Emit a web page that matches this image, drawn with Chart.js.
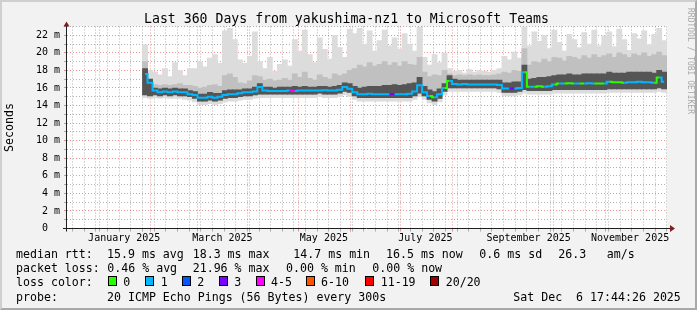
<!DOCTYPE html>
<html>
<head>
<meta charset="utf-8">
<title>Last 360 Days from yakushima-nz1 to Microsoft Teams</title>
<script src="https://cdn.jsdelivr.net/npm/chart.js@4.4.1/dist/chart.umd.min.js"></script>
<style>
  html, body { margin: 0; padding: 0; background: #f2f2f2; overflow: hidden; }
  #wrap { position: relative; width: 697px; height: 310px; background: #f2f2f2; overflow: hidden; }
  #c { position: absolute; left: 0; top: 0; }
  #frame { position: absolute; left: 0; top: 0; width: 697px; height: 310px; box-sizing: border-box;
           border-top: 2px solid #cfcfcf; border-left: 2px solid #cfcfcf;
           border-right: 2px solid #a8a8a8; border-bottom: 2px solid #a8a8a8; pointer-events: none; }
  .t { position: absolute; font-family: 'DejaVu Sans Mono', monospace; white-space: pre; color: #000; }
  .lg { font-size: 11.6px; line-height: 14px; }
  .ttl { font-size: 13.2px; line-height: 16px; }
  .box { position: absolute; width: 7px; height: 8px; border: 1px solid #000; }
  #wm { position: absolute; left: 686px; top: 8px; writing-mode: vertical-rl; font-family: 'DejaVu Sans Mono', monospace;
        font-size: 8px; color: #a8a8a8; white-space: pre; }
</style>
</head>
<body>
<div id="wrap">
  <canvas id="c" width="697" height="310"></canvas>
  <div id="texts"></div>
  <div id="wm">RRDTOOL / TOBI OETIKER</div>
  <div id="frame"></div>
</div>
<script>
// ---------- time axis (days after 1 Jan 2025) ----------
const firstBucketDay = 27.5;   // centre of first 3-day bucket
const bucketStep = 3;
const xMin = -19.4, xMax = 341.2;
const monthStartDays = [0, 31, 59, 90, 120, 151, 181, 212, 243, 273, 304, 334];
const monthLabels = ['January 2025', 'March 2025', 'May 2025', 'July 2025', 'September 2025', 'November 2025'];
const monthLabelDays = [15, 74, 135, 196, 258, 319];
const firstMonday = 5;

// ---------- series (ms) ----------
const median = [
  17.6, 16.6, 15.7, 15.5, 15.6, 15.5, 15.6, 15.5, 15.5, 15.3,
  15.2, 14.9, 14.9, 15.0, 14.9, 15.0, 15.2, 15.3, 15.3, 15.4,
  15.5, 15.5, 15.6, 16.1, 15.7, 15.65, 15.65, 15.65, 15.65, 15.7,
  15.65, 15.7, 15.7, 15.7, 15.7, 15.7, 15.75, 15.7, 15.7, 15.8,
  16.1, 15.9, 15.5, 15.3, 15.3, 15.35, 15.3, 15.3, 15.3, 15.3,
  15.3, 15.3, 15.3, 15.35, 15.6, 16.3, 15.5, 15.1, 14.95, 15.3,
  16.0, 16.8, 16.45, 16.4, 16.45, 16.4, 16.4, 16.4, 16.4, 16.4,
  16.4, 16.35, 15.95, 15.95, 15.95, 16.0, 17.8, 16.15, 16.15, 16.2,
  16.15, 16.2, 16.4, 16.5, 16.5, 16.55, 16.5, 16.5, 16.5, 16.55,
  16.5, 16.5, 16.5, 16.7, 16.65, 16.65, 16.6, 16.65, 16.65, 16.7,
  16.65, 16.65, 16.6, 17.2, 16.7
];
// loss colour index per bucket (0 = 0 lost, 1 = 1 lost, 3 = 3 lost, 4 = 4-5 lost)
const loss = [
  1, 1, 1, 1, 1, 1, 1, 1, 1, 1,
  1, 1, 1, 1, 1, 1, 1, 1, 1, 1,
  1, 1, 1, 1, 1, 1, 1, 1, 1, 1,
  4, 1, 1, 1, 1, 1, 1, 1, 1, 1,
  1, 1, 1, 1, 1, 1, 1, 1, 1, 1,
  3, 1, 1, 1, 1, 1, 1, 1, 0, 1,
  1, 0, 1, 1, 1, 1, 1, 1, 1, 1,
  1, 1, 1, 1, 3, 1, 1, 0, 1, 0,
  0, 1, 1, 0, 1, 0, 0, 1, 0, 1,
  1, 0, 0, 1, 0, 0, 0, 1, 1, 1,
  1, 1, 1, 0, 1
];
const lightHi = [
  20.9, 18.0, 17.8, 17.5, 18.2, 17.3, 18.9, 18.0, 17.4, 18.2,
  18.2, 19.0, 18.4, 19.4, 19.8, 18.8, 22.5, 22.8, 21.5, 19.2,
  18.8, 19.6, 22.4, 19.0, 18.2, 19.5, 17.9, 18.7, 19.2, 18.5,
  21.5, 20.2, 22.6, 19.8, 18.9, 21.7, 20.4, 19.3, 22.0, 20.6,
  19.5, 22.7, 22.2, 22.8, 21.0, 22.5, 20.2, 21.4, 22.6, 20.8,
  21.7, 20.4, 22.2, 21.0, 20.2, 22.9, 19.5, 18.6, 19.8, 18.9,
  20.0, 18.2, 17.9, 18.0, 17.7, 18.1, 17.8, 18.0, 17.9, 17.8,
  18.0, 18.2, 19.6, 19.2, 20.1, 19.4, 23.0, 20.8, 22.4, 21.3,
  22.0, 20.5, 22.6, 21.2, 20.2, 22.1, 21.5, 20.6, 22.3, 21.0,
  22.6, 20.8, 21.9, 22.4, 20.7, 22.7, 21.5, 20.3, 22.2, 21.6,
  22.5, 20.9, 22.1, 22.8, 21.4
];
const midHi = [
  19.0, 16.8, 16.4, 16.3, 16.4, 16.3, 16.4, 16.5, 16.3, 16.3,
  16.2, 16.0, 16.1, 16.3, 16.4, 16.2, 17.4, 17.6, 17.2, 16.6,
  16.5, 16.8, 17.4, 17.3, 16.9, 17.0, 16.8, 16.9, 17.1, 16.9,
  17.6, 17.2, 17.8, 17.1, 16.9, 17.5, 17.2, 17.0, 17.6, 17.4,
  17.6, 18.0, 18.2, 18.6, 18.4, 18.9, 18.5, 18.7, 19.0, 18.6,
  18.9, 18.5, 19.0, 18.7, 18.6, 19.5, 17.8, 17.3, 17.5, 17.4,
  18.0, 17.6, 17.4, 17.5, 17.4, 17.5, 17.4, 17.5, 17.4, 17.4,
  17.5, 17.6, 17.8, 17.7, 18.0, 17.9, 20.5, 18.6, 19.0, 18.9,
  19.3, 19.0, 19.5, 19.4, 19.1, 19.6, 19.5, 19.3, 19.7, 19.4,
  19.8, 19.5, 19.7, 19.9, 19.5, 20.0, 19.8, 19.5, 19.9, 19.7,
  20.0, 19.6, 19.8, 20.1, 19.7
];
const darkHi = [
  18.2, 17.0, 16.0, 15.9, 16.0, 15.9, 16.0, 15.9, 15.9, 15.7,
  15.6, 15.3, 15.3, 15.5, 15.4, 15.4, 15.7, 15.8, 15.8, 15.8,
  15.9, 15.9, 16.1, 16.5, 16.1, 16.1, 16.0, 16.1, 16.1, 16.1,
  16.2, 16.1, 16.2, 16.1, 16.1, 16.2, 16.2, 16.1, 16.2, 16.3,
  16.6, 16.5, 16.2, 16.0, 16.1, 16.2, 16.2, 16.2, 16.3, 16.3,
  16.4, 16.3, 16.4, 16.5, 16.6, 17.2, 16.2, 15.8, 15.6, 15.9,
  16.5, 17.4, 17.0, 16.9, 16.9, 16.9, 16.9, 16.9, 16.9, 16.9,
  16.9, 16.9, 16.6, 16.6, 16.7, 16.7, 18.6, 17.0, 17.1, 17.2,
  17.2, 17.3, 17.4, 17.5, 17.5, 17.6, 17.5, 17.5, 17.6, 17.6,
  17.6, 17.6, 17.6, 17.8, 17.7, 17.7, 17.7, 17.8, 17.8, 17.8,
  17.8, 17.8, 17.7, 18.0, 17.8
];
const darkLo = [
  15.2, 15.1, 15.2, 15.1, 15.2, 15.1, 15.2, 15.1, 15.1, 15.0,
  14.8, 14.5, 14.5, 14.6, 14.5, 14.6, 14.8, 14.9, 14.9, 15.0,
  15.1, 15.1, 15.2, 15.3, 15.3, 15.3, 15.3, 15.3, 15.3, 15.3,
  15.3, 15.3, 15.3, 15.3, 15.3, 15.4, 15.3, 15.3, 15.3, 15.4,
  15.6, 15.5, 15.1, 14.9, 14.9, 14.9, 14.9, 14.9, 14.9, 14.9,
  14.9, 14.9, 14.9, 14.9, 15.1, 15.4, 15.1, 14.7, 14.5, 14.8,
  15.6, 16.0, 16.0, 16.0, 16.0, 16.0, 16.0, 16.0, 16.0, 16.0,
  16.0, 15.9, 15.5, 15.5, 15.5, 15.6, 15.8, 15.7, 15.7, 15.7,
  15.7, 15.7, 15.8, 15.8, 15.8, 15.8, 15.8, 15.8, 15.8, 15.8,
  15.8, 15.8, 15.8, 15.9, 15.9, 15.9, 15.9, 15.9, 15.9, 15.9,
  15.9, 15.9, 15.9, 16.0, 15.9
];
const lightLo = [
  14.9, 14.8, 14.9, 14.8, 14.9, 14.8, 14.8, 14.8, 14.7, 14.6,
  14.4, 14.1, 14.1, 14.2, 14.1, 14.2, 14.4, 14.5, 14.5, 14.6,
  14.7, 14.7, 14.8, 14.9, 14.9, 14.9, 14.9, 14.9, 14.9, 14.9,
  14.9, 14.9, 14.9, 14.9, 14.9, 15.0, 14.9, 14.9, 14.9, 15.0,
  15.2, 15.0, 14.7, 14.5, 14.5, 14.5, 14.5, 14.5, 14.5, 14.5,
  14.5, 14.5, 14.5, 14.5, 14.7, 15.0, 14.7, 14.3, 14.1, 14.4,
  15.2, 15.6, 15.6, 15.6, 15.6, 15.6, 15.6, 15.6, 15.6, 15.6,
  15.6, 15.5, 15.1, 15.1, 15.1, 15.2, 15.4, 15.3, 15.3, 15.3,
  15.3, 15.3, 15.4, 15.4, 15.4, 15.4, 15.4, 15.4, 15.4, 15.4,
  15.4, 15.4, 15.4, 15.5, 15.5, 15.5, 15.5, 15.5, 15.5, 15.5,
  15.5, 15.5, 15.5, 15.6, 15.5
];

// ---------- legend texts ----------
const lossColors = ['#26ff00', '#00b8ff', '#0059ff', '#7e00ff', '#ff00ff', '#ff5500', '#ff0000', '#a10000'];
const lossLabels = ['0', '1', '2', '3', '4-5', '6-10', '11-19', '20/20'];
const lossBoxX = [108, 145, 182, 219, 256, 306, 365, 430];
const lossLabelX = [123.3, 160.7, 197.3, 234.3, 271, 321, 380.7, 445.7];
const rttRow = [[16, 'median rtt:'], [107, '15.9 ms avg'], [192.7, '18.3 ms max'], [293.3, '14.7 ms min'],
                [386, '16.5 ms now'], [479.3, '0.6 ms sd'], [558.3, '26.3'], [606.7, 'am/s']];
const lossRow = [[16, 'packet loss:'], [107.3, '0.46 % avg'], [192.7, '21.96 % max'], [286, '0.00 % min'], [372.3, '0.00 % now']];
const probeRow = [[16, 'probe:'], [107, '20 ICMP Echo Pings (56 Bytes) every 300s'], [513.3, 'Sat Dec  6 17:44:26 2025']];
const titleText = 'Last 360 Days from yakushima-nz1 to Microsoft Teams';

// ---------- HTML texts ----------
const texts = document.getElementById('texts');
function addText(x, y, s, cls) {
  const d = document.createElement('div');
  d.className = 't ' + cls;
  d.style.left = x + 'px'; d.style.top = y + 'px';
  d.textContent = s;
  texts.appendChild(d);
}
addText(144, 11, titleText, 'ttl');
rttRow.forEach(([x, s]) => addText(x, 247, s, 'lg'));
lossRow.forEach(([x, s]) => addText(x, 261, s, 'lg'));
addText(16, 275, 'loss color:', 'lg');
lossLabels.forEach((s, i) => {
  const b = document.createElement('div');
  b.className = 'box';
  b.style.left = lossBoxX[i] + 'px'; b.style.top = '276px';
  b.style.background = lossColors[i];
  texts.appendChild(b);
  addText(lossLabelX[i], 275, s, 'lg');
});
probeRow.forEach(([x, s]) => addText(x, 289.5, s, 'lg'));

// ---------- chart ----------
const FONT = "'DejaVu Sans Mono', monospace";
const MGRID = 'rgba(222,79,79,0.6)';
const GRID = 'rgba(143,143,143,0.7)';
const CLEAR = 'rgba(0,0,0,0)';
const plotWidthPx = 600;
const barPx = bucketStep * plotWidthPx / (xMax - xMin) + 0.2;

const bucketDay = median.map((_, i) => firstBucketDay + i * bucketStep);

const xTicks = [];
for (let d = firstMonday - 21; d <= xMax; d += 7) {
  if (d >= xMin && !monthStartDays.some(m => Math.abs(m - d) < 1)) xTicks.push({ v: d, kind: 'minor' });
}
monthStartDays.forEach(d => { if (d >= xMin && d <= xMax) xTicks.push({ v: d, kind: 'major' }); });
monthLabelDays.forEach((d, i) => xTicks.push({ v: d, kind: 'label', text: monthLabels[i] }));
xTicks.sort((a, b) => a.v - b.v);
const xKind = c => (c && c.index !== undefined && xTicks[c.index]) ? xTicks[c.index].kind : 'label';

function band(lo, hi) { return bucketDay.map((x, i) => ({ x: x, y: [lo[i], hi[i]] })); }
const barCommon = { grouped: false, barThickness: barPx, borderWidth: 0, borderSkipped: false };

const plotBg = {
  id: 'plotBg',
  beforeDraw(chart) {
    const { ctx, chartArea: a } = chart;
    ctx.save(); ctx.fillStyle = '#ffffff';
    ctx.fillRect(a.left, a.top, a.right - a.left, a.bottom - a.top);
    ctx.restore();
  }
};
const axes = {
  id: 'axes',
  afterDraw(chart) {
    const { ctx, chartArea: a } = chart;
    const y0 = chart.scales.y.getPixelForValue(0);
    ctx.save();
    ctx.lineWidth = 1; ctx.strokeStyle = '#1f1f1f';
    ctx.beginPath(); ctx.moveTo(a.left - 0.5, y0 + 3); ctx.lineTo(a.left - 0.5, a.top - 2); ctx.stroke();
    ctx.beginPath(); ctx.moveTo(a.left - 4, Math.floor(y0) + 0.5); ctx.lineTo(a.right + 3, Math.floor(y0) + 0.5); ctx.stroke();
    ctx.fillStyle = '#801f1f';
    ctx.beginPath(); ctx.moveTo(a.left - 0.5, a.top - 5); ctx.lineTo(a.left - 3.5, a.top); ctx.lineTo(a.left + 2.5, a.top); ctx.closePath(); ctx.fill();
    const yy = Math.floor(y0) + 0.5;
    ctx.beginPath(); ctx.moveTo(a.right + 8, yy); ctx.lineTo(a.right + 3, yy - 3.5); ctx.lineTo(a.right + 3, yy + 3.5); ctx.closePath(); ctx.fill();
    ctx.restore();
  }
};

new Chart(document.getElementById('c'), {
  type: 'bar',
  data: {
    datasets: [
      { type: 'line', label: 'median', order: 0,
        data: bucketDay.map((x, i) => ({ x: x, y: median[i] })),
        borderColor: lossColors[1], borderWidth: 2, pointRadius: 0, stepped: 'middle',
        segment: { borderColor: c => lossColors[loss[c.p1DataIndex]] } },
      Object.assign({ label: 'dark', order: 1, data: band(darkLo, darkHi), backgroundColor: '#555555' }, barCommon),
      Object.assign({ label: 'mid', order: 2, data: band(darkLo, midHi), backgroundColor: '#c0c0c0' }, barCommon),
      Object.assign({ label: 'light', order: 3, data: band(lightLo, lightHi), backgroundColor: '#dcdcdc' }, barCommon)
    ]
  },
  options: {
    responsive: false, animation: false, events: [],
    layout: { padding: { left: 0, right: 30, top: 26.5, bottom: 0 } },
    plugins: { legend: { display: false }, tooltip: { enabled: false }, title: { display: false } },
    scales: {
      x: {
        type: 'linear', min: xMin, max: xMax, offset: false, z: 1,
        afterBuildTicks: s => { s.ticks = xTicks.map(t => ({ value: t.v })); },
        afterFit: s => { s.height = 310 - 228.5; },
        grid: {
          offset: false, drawTicks: true, tickLength: 3, lineWidth: 1,
          color: c => { const k = xKind(c); return k === 'major' ? MGRID : (k === 'minor' ? GRID : CLEAR); },
          tickColor: c => { const k = xKind(c); return k === 'major' ? MGRID : (k === 'minor' ? GRID : CLEAR); }
        },
        border: { display: false, dash: [1, 2] },
        ticks: {
          autoSkip: false, maxRotation: 0, minRotation: 0, padding: 1, color: '#000',
          font: { family: FONT, size: 10 },
          callback: (v, i) => (xTicks[i] && xTicks[i].kind === 'label') ? xTicks[i].text : ''
        }
      },
      y: {
        min: 0, max: 23, z: 1,
        afterFit: s => { s.width = 67; },
        grid: {
          drawTicks: true, tickLength: 3, lineWidth: 1,
          color: c => (c.tick && c.tick.value % 2 === 0) ? MGRID : GRID,
          tickColor: c => (c.tick && c.tick.value % 2 === 0) ? MGRID : GRID
        },
        border: { display: false, dash: [1, 2] },
        ticks: {
          stepSize: 1, autoSkip: false, padding: 4, color: '#000',
          font: { family: FONT, size: 10 },
          callback: v => (v % 2 !== 0) ? '' : (v === 0 ? '0  ' : v + ' m')
        },
        title: { display: true, text: 'Seconds', color: '#000', font: { family: FONT, size: 11.6 }, padding: { top: 3, bottom: 0 } }
      }
    }
  },
  plugins: [plotBg, axes]
});
</script>
</body>
</html>
